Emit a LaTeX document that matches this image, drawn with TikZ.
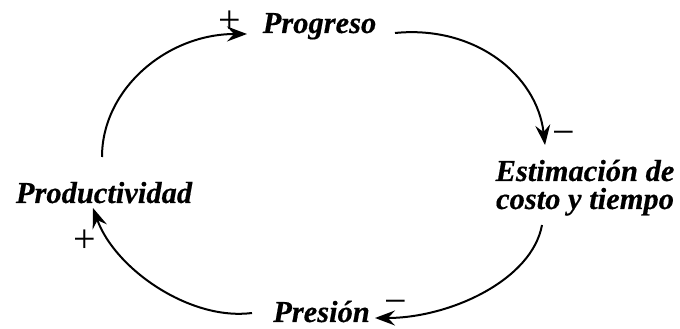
\documentclass[tikz,border=0pt]{standalone}
\usepackage{fontspec}
\setmainfont{Liberation Serif}[BoldItalicFeatures={FakeBold=0.4}]
\usetikzlibrary{arrows.meta}
\begin{document}
\begin{tikzpicture}[x=1pt,y=1pt,
  var/.style={font=\fontsize{30.5}{28}\selectfont\bfseries\itshape, inner sep=0pt},
  sgn/.style={font=\fontsize{40}{40}\selectfont, inner sep=0pt},
  link/.style={line width=2pt, -{Stealth[length=20pt,width=15pt,inset=7pt]}}]
\useasboundingbox (0,0) rectangle (680,329);

% variables of the loop
\node[var, anchor=base] (prog) at (319.5,296) {Progreso};
\node[var, anchor=base] (prod) at (104,126) {Productividad};
\node[var, anchor=base, align=center] (est) at (585,120) {Estimación de\\costo y tiempo};
\node[var, anchor=base] (pres) at (321.5,7) {Presión};

% causal links
\draw[link] ([shift={(-2,46)}]prod.base) .. controls +(0,68) and +(-80,0) .. ([shift={(-72.5,-1)}]prog.base);
\draw[link] ([shift={(75.5,0)}]prog.base) .. controls +(80,8) and +(-8,70) .. ([shift={(-40,64)}]est.base);
\draw[link] ([shift={(-43,-16)}]est.base) .. controls +(-10,-55) and +(75,0) .. ([shift={(53.5,4)}]pres.base);
\draw[link] ([shift={(-69.5,9)}]pres.base) .. controls +(-62,-8) and +(22,-61) .. ([shift={(-11,-5)}]prod.base);

% polarities
\node[sgn] (s1) at (230,307) {+};
\node[sgn] (s2) at (564,191) {−};
\node[sgn] (s3) at (396,22) {−};
\node[sgn] (s4) at (85,88) {+};
\end{tikzpicture}
\end{document}
